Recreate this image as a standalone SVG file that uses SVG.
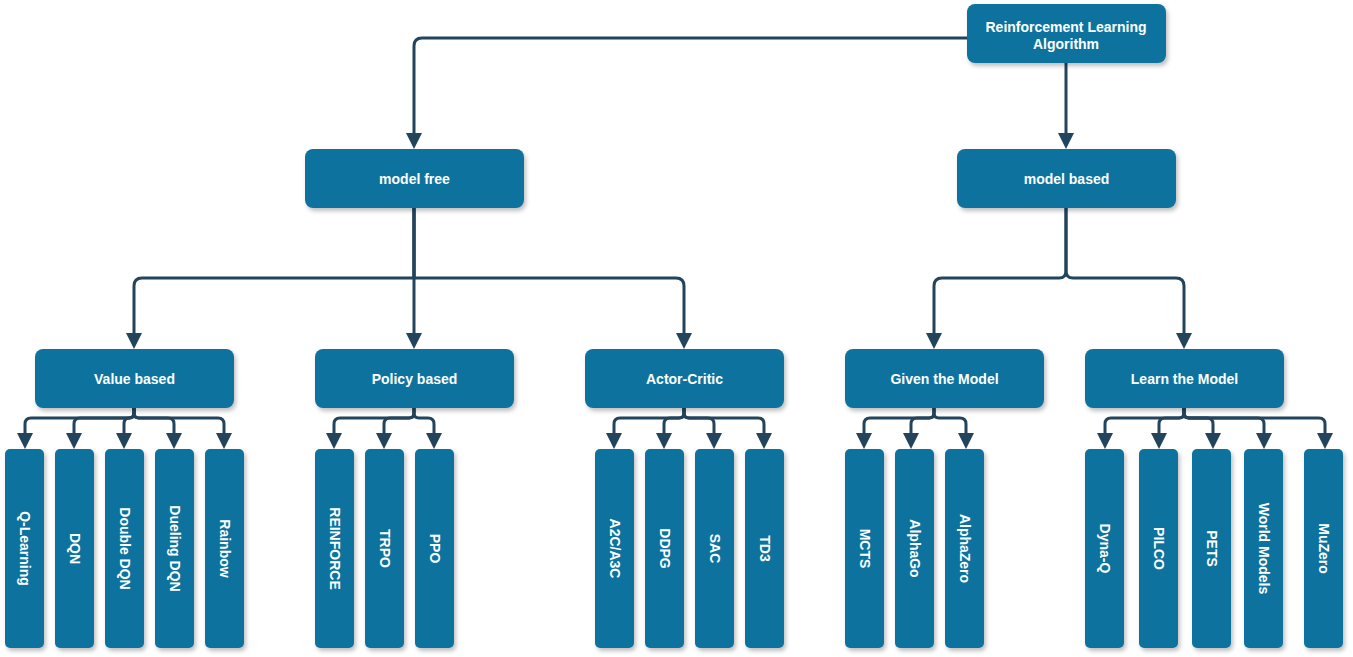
<svg xmlns="http://www.w3.org/2000/svg" width="1353" height="657" viewBox="0 0 1353 657">
<defs>
<style>
.box{fill:#10739E;filter:url(#sh);}
.t{font-family:"Liberation Sans",Arial,sans-serif;font-weight:bold;font-size:14px;fill:#FFFFFF;text-anchor:middle;dominant-baseline:central;}
.c{fill:none;stroke:#23445D;stroke-width:3;stroke-linejoin:round;marker-end:url(#ah);}
</style>
<filter id="sh" x="-20%" y="-20%" width="140%" height="140%">
<feDropShadow dx="2" dy="3" stdDeviation="2" flood-color="#000" flood-opacity="0.25"/>
</filter>
<marker id="ah" markerUnits="userSpaceOnUse" markerWidth="18" markerHeight="18" refX="1" refY="8" orient="auto" overflow="visible">
<path d="M0,0 L16,8 L0,16 Z" fill="#23445D"/>
</marker>
</defs>

<g id="connectors">
<path class="c" d="M967,38 L422,38 Q414,38 414,46 L414,134"/>
<path class="c" d="M1066,63 L1066,134"/>
<path class="c" d="M414,208 L414,334"/>
<path class="c" d="M414,208 L414,278 L142,278 Q134,278 134,286 L134,334"/>
<path class="c" d="M414,208 L414,278 L676,278 Q684,278 684,286 L684,334"/>
<path class="c" d="M1066,208 L1066,271 Q1066,278 1059,278 L942,278 Q934,278 934,286 L934,334"/>
<path class="c" d="M1066,208 L1066,271 Q1066,278 1073,278 L1176,278 Q1184,278 1184,286 L1184,334"/>

<path class="c" d="M134,408 L134,413 Q134,418 129,418 L31,418 Q25,418 25,424 L25,434"/>
<path class="c" d="M134,408 L134,413 Q134,418 129,418 L80,418 Q74,418 74,424 L74,434"/>
<path class="c" d="M134,408 L134,413 Q134,418 129,418 Q124,418 124,424 L124,434"/>
<path class="c" d="M134,408 L134,413 Q134,418 139,418 L168,418 Q174,418 174,424 L174,434"/>
<path class="c" d="M134,408 L134,413 Q134,418 139,418 L218,418 Q224,418 224,424 L224,434"/>

<path class="c" d="M414,408 L414,413 Q414,418 409,418 L340,418 Q334,418 334,424 L334,434"/>
<path class="c" d="M414,408 L414,413 Q414,418 409,418 L390,418 Q384,418 384,424 L384,434"/>
<path class="c" d="M414,408 L414,413 Q414,418 419,418 L428,418 Q434,418 434,424 L434,434"/>

<path class="c" d="M684,408 L684,413 Q684,418 679,418 L620,418 Q614,418 614,424 L614,434"/>
<path class="c" d="M684,408 L684,413 Q684,418 679,418 L670,418 Q664,418 664,424 L664,434"/>
<path class="c" d="M684,408 L684,413 Q684,418 689,418 L708,418 Q714,418 714,424 L714,434"/>
<path class="c" d="M684,408 L684,413 Q684,418 689,418 L758,418 Q764,418 764,424 L764,434"/>

<path class="c" d="M934,408 L934,413 Q934,418 929,418 L870,418 Q864,418 864,424 L864,434"/>
<path class="c" d="M934,408 L934,413 Q934,418 929,418 L917,418 Q911,418 911,424 L911,434"/>
<path class="c" d="M934,408 L934,413 Q934,418 939,418 L960,418 Q966,418 966,424 L966,434"/>

<path class="c" d="M1184,408 L1184,413 Q1184,418 1179,418 L1111,418 Q1105,418 1105,424 L1105,434"/>
<path class="c" d="M1184,408 L1184,413 Q1184,418 1179,418 L1165,418 Q1159,418 1159,424 L1159,434"/>
<path class="c" d="M1184,408 L1184,413 Q1184,418 1189,418 L1207,418 Q1213,418 1213,424 L1213,434"/>
<path class="c" d="M1184,408 L1184,413 Q1184,418 1189,418 L1258,418 Q1264,418 1264,424 L1264,434"/>
<path class="c" d="M1184,408 L1184,413 Q1184,418 1189,418 L1319,418 Q1325,418 1325,424 L1325,434"/>
</g>

<g id="root"><rect class="box" x="967" y="4" width="199" height="59" rx="8"/>
<text class="t" x="1066" y="27">Reinforcement Learning</text><text class="t" x="1066" y="44">Algorithm</text></g>

<g id="model-free"><rect class="box" x="305" y="149" width="219" height="59" rx="8"/><text class="t" x="414.5" y="179">model free</text></g>
<g id="model-based"><rect class="box" x="957" y="149" width="219" height="59" rx="8"/><text class="t" x="1066.5" y="179">model based</text></g>

<g id="value-based"><rect class="box" x="35" y="349" width="199" height="59" rx="8"/><text class="t" x="134.5" y="379">Value based</text></g>
<g id="policy-based"><rect class="box" x="315" y="349" width="199" height="59" rx="8"/><text class="t" x="414.5" y="379">Policy based</text></g>
<g id="actor-critic"><rect class="box" x="585" y="349" width="199" height="59" rx="8"/><text class="t" x="684.5" y="379">Actor-Critic</text></g>
<g id="given-model"><rect class="box" x="845" y="349" width="199" height="59" rx="8"/><text class="t" x="944.5" y="379">Given the Model</text></g>
<g id="learn-model"><rect class="box" x="1085" y="349" width="199" height="59" rx="8"/><text class="t" x="1184.5" y="379">Learn the Model</text></g>

<g id="q-learning"><rect class="box" x="5" y="449" width="39" height="199" rx="5"/><text class="t" transform="rotate(90 24.5 548.5)" x="24.5" y="548.5">Q-Learning</text></g>
<g id="dqn"><rect class="box" x="55" y="449" width="39" height="199" rx="5"/><text class="t" transform="rotate(90 74.5 548.5)" x="74.5" y="548.5">DQN</text></g>
<g id="double-dqn"><rect class="box" x="105" y="449" width="39" height="199" rx="5"/><text class="t" transform="rotate(90 124.5 548.5)" x="124.5" y="548.5">Double DQN</text></g>
<g id="dueling-dqn"><rect class="box" x="155" y="449" width="39" height="199" rx="5"/><text class="t" transform="rotate(90 174.5 548.5)" x="174.5" y="548.5">Dueling DQN</text></g>
<g id="rainbow"><rect class="box" x="205" y="449" width="39" height="199" rx="5"/><text class="t" transform="rotate(90 224.5 548.5)" x="224.5" y="548.5">Rainbow</text></g>

<g id="reinforce"><rect class="box" x="315" y="449" width="39" height="199" rx="5"/><text class="t" transform="rotate(90 334.5 548.5)" x="334.5" y="548.5">REINFORCE</text></g>
<g id="trpo"><rect class="box" x="365" y="449" width="39" height="199" rx="5"/><text class="t" transform="rotate(90 384.5 548.5)" x="384.5" y="548.5">TRPO</text></g>
<g id="ppo"><rect class="box" x="415" y="449" width="39" height="199" rx="5"/><text class="t" transform="rotate(90 434.5 548.5)" x="434.5" y="548.5">PPO</text></g>

<g id="a2c"><rect class="box" x="595" y="449" width="39" height="199" rx="5"/><text class="t" transform="rotate(90 614.5 548.5)" x="614.5" y="548.5">A2C/A3C</text></g>
<g id="ddpg"><rect class="box" x="645" y="449" width="39" height="199" rx="5"/><text class="t" transform="rotate(90 664.5 548.5)" x="664.5" y="548.5">DDPG</text></g>
<g id="sac"><rect class="box" x="695" y="449" width="39" height="199" rx="5"/><text class="t" transform="rotate(90 714.5 548.5)" x="714.5" y="548.5">SAC</text></g>
<g id="td3"><rect class="box" x="745" y="449" width="39" height="199" rx="5"/><text class="t" transform="rotate(90 764.5 548.5)" x="764.5" y="548.5">TD3</text></g>

<g id="mcts"><rect class="box" x="845" y="449" width="39" height="199" rx="5"/><text class="t" transform="rotate(90 864.5 548.5)" x="864.5" y="548.5">MCTS</text></g>
<g id="alphago"><rect class="box" x="895" y="449" width="39" height="199" rx="5"/><text class="t" transform="rotate(90 914.5 548.5)" x="914.5" y="548.5">AlphaGo</text></g>
<g id="alphazero"><rect class="box" x="945" y="449" width="39" height="199" rx="5"/><text class="t" transform="rotate(90 964.5 548.5)" x="964.5" y="548.5">AlphaZero</text></g>

<g id="dyna-q"><rect class="box" x="1085" y="449" width="39" height="199" rx="5"/><text class="t" transform="rotate(90 1104.5 548.5)" x="1104.5" y="548.5">Dyna-Q</text></g>
<g id="pilco"><rect class="box" x="1139" y="449" width="39" height="199" rx="5"/><text class="t" transform="rotate(90 1158.5 548.5)" x="1158.5" y="548.5">PILCO</text></g>
<g id="pets"><rect class="box" x="1192" y="449" width="39" height="199" rx="5"/><text class="t" transform="rotate(90 1211.5 548.5)" x="1211.5" y="548.5">PETS</text></g>
<g id="world-models"><rect class="box" x="1244" y="449" width="39" height="199" rx="5"/><text class="t" transform="rotate(90 1263.5 548.5)" x="1263.5" y="548.5">World Models</text></g>
<g id="muzero"><rect class="box" x="1304" y="449" width="39" height="199" rx="5"/><text class="t" transform="rotate(90 1323.5 548.5)" x="1323.5" y="548.5">MuZero</text></g>
</svg>
